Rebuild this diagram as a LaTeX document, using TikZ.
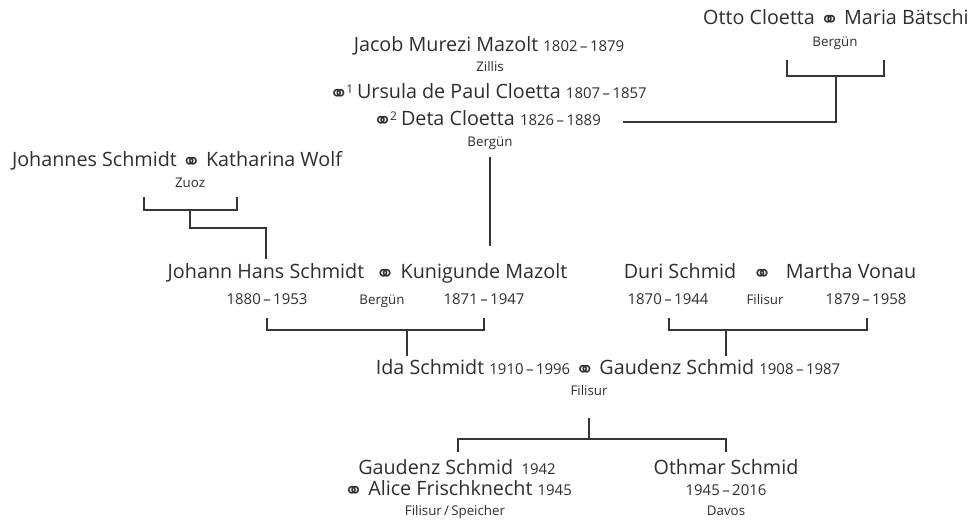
\documentclass[tikz,border=0pt]{standalone}
\usepackage{fontspec}
\setmainfont{Open Sans}
\newfontfamily\symfont{DejaVu Sans}
\newcommand\marr{\raisebox{-2.2pt}{\symfont\fontsize{17}{17}\selectfont ⚭}}
\newcommand\yrs[2]{{\fontsize{11.2}{13}\selectfont #1\,–\,#2}}
\newcommand\yr[1]{{\fontsize{11.2}{13}\selectfont #1}}
\newcommand\supn[1]{\kern-1.5pt{\fontsize{9}{10}\selectfont\raisebox{0.9ex}{#1}}\hspace{3pt}}
\definecolor{txt}{HTML}{2E2E2E}
\definecolor{ln}{HTML}{363636}
\begin{document}
\begin{tikzpicture}[x=0.75pt,y=-0.75pt,
  nm/.style={font=\fontsize{14.8}{17}\selectfont, text=txt, inner sep=0pt, anchor=base},
  yrn/.style={font=\fontsize{11.2}{13}\selectfont, text=txt, inner sep=0pt, anchor=base},
  pl/.style={font=\fontsize{10}{12}\selectfont, text=txt, inner sep=0pt, anchor=base},
  mk/.style={text=txt, inner sep=0pt, anchor=base},
  conn/.style={draw=ln, line width=1pt}]
\useasboundingbox[fill=white] (0,0) rectangle (971,530);

% top right
\node[nm, anchor=base east] (otto) at (969,25) {Otto Cloetta \marr\ Maria Bätschi};
\node[pl] (ottop) at (835,47) {Bergün};
% Jacob
\node[nm] (jacob) at (489,52) {Jacob Murezi Mazolt \yrs{1802}{1879}};
\node[pl] (zillis) at (490,72) {Zillis};
\node[nm] (ursula) at (488,99) {\marr\supn{1}Ursula de Paul Cloetta \yrs{1807}{1857}};
\node[nm] (deta) at (487,126) {\marr\supn{2}Deta Cloetta \yrs{1826}{1889}};
\node[pl] (detap) at (490,147) {Bergün};
% Johannes
\node[nm] (johannes) at (177,167) {Johannes Schmidt \marr\ Katharina Wolf};
\node[pl] (zuoz) at (190,188) {Zuoz};
% Johann row
\node[nm] (johann) at (266,279) {Johann Hans Schmidt};
\node[mk] (m1) at (385,279) {\marr};
\node[nm] (kuni) at (484,279) {Kunigunde Mazolt};
\node[yrn] (y1) at (267,305) {1880\,–\,1953};
\node[pl] (p1) at (382,305) {Bergün};
\node[yrn] (y2) at (484,305) {1871\,–\,1947};
% Duri row
\node[nm] (duri) at (680,279) {Duri Schmid};
\node[mk] (m2) at (762,279) {\marr};
\node[nm] (martha) at (851,279) {Martha Vonau};
\node[yrn] (y3) at (668,305) {1870\,–\,1944};
\node[pl] (p2) at (765,305) {Filisur};
\node[yrn] (y4) at (866,305) {1879\,–\,1958};
% Ida
\node[nm] (ida) at (608,375) {Ida Schmidt \yrs{1910}{1996} \marr\ Gaudenz Schmid \yrs{1908}{1987}};
\node[pl] (filisur) at (589,396) {Filisur};
% children
\node[nm] (gaudenz) at (457,475) {Gaudenz Schmid \,\yr{1942}};
\node[nm] (alice) at (458,496) {\marr\ Alice Frischknecht \yr{1945}};
\node[pl] (fs) at (455,516) {Filisur\,/\,Speicher};
\node[nm] (othmar) at (726,475) {Othmar Schmid};
\node[yrn] (oy) at (726,496) {1945\,–\,2016};
\node[pl] (davos) at (726,516) {Davos};

% coordinates
\coordinate (oL) at (787,60); \coordinate (oLb) at (787,76);
\coordinate (oR) at (884,60); \coordinate (oRb) at (884,76);
\coordinate (oM) at (836,76); \coordinate (oD) at (836,122);
\coordinate (dE) at (623,122);
\coordinate (jT) at (490,157); \coordinate (jB) at (490,246);
\coordinate (zL) at (144,197); \coordinate (zLb) at (144,210);
\coordinate (zR) at (237,197); \coordinate (zRb) at (237,210);
\coordinate (zM) at (190,210); \coordinate (zK) at (190,228);
\coordinate (zE) at (266,228); \coordinate (zB) at (266,259);
\coordinate (aL) at (267,318); \coordinate (aLb) at (267,330);
\coordinate (aR) at (484,318); \coordinate (aRb) at (484,330);
\coordinate (aM) at (407,330); \coordinate (aD) at (407,356);
\coordinate (bL) at (669,318); \coordinate (bLb) at (669,330);
\coordinate (bR) at (867,318); \coordinate (bRb) at (867,330);
\coordinate (bM) at (726,330); \coordinate (bD) at (726,356);
\coordinate (cT) at (589,418); \coordinate (cM) at (589,439);
\coordinate (cL) at (458,439); \coordinate (cLd) at (458,452);
\coordinate (cR) at (726,439); \coordinate (cRd) at (726,452);

\draw[conn] (oL) -- (oLb) -- (oRb) -- (oR);
\draw[conn] (oM) -- (oD) -- (dE);
\draw[conn] (jT) -- (jB);
\draw[conn] (zL) -- (zLb) -- (zRb) -- (zR);
\draw[conn] (zM) -- (zK) -- (zE) -- (zB);
\draw[conn] (aL) -- (aLb) -- (aRb) -- (aR);
\draw[conn] (aM) -- (aD);
\draw[conn] (bL) -- (bLb) -- (bRb) -- (bR);
\draw[conn] (bM) -- (bD);
\draw[conn] (cT) -- (cM);
\draw[conn] (cLd) -- (cL) -- (cR) -- (cRd);
\end{tikzpicture}
\end{document}
